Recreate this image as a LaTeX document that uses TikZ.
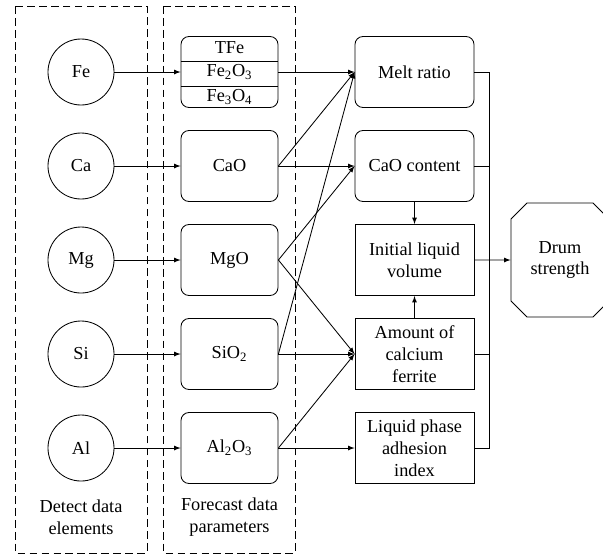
\documentclass[tikz,border=0pt]{standalone}
\usepackage{fontspec}
\setmainfont{Liberation Serif}
\usepackage{tikz}
\usetikzlibrary{positioning,calc,shapes.misc}
\tikzstyle{arrow} = [-latex]
\tikzstyle{elem} = [circle, draw, minimum size=1.65cm, inner sep=0pt]
\tikzstyle{param} = [rectangle, draw, rounded corners=0.2cm, minimum width=2.425cm, minimum height=1.775cm]
\tikzstyle{index} = [rectangle, draw, minimum width=2.975cm, minimum height=1.775cm, align=center, inner sep=1pt]
\tikzstyle{grp} = [dash pattern=on 5.5pt off 3pt]

\begin{document}
\begin{tikzpicture}[node distance=2.35cm, line width=0.6pt, every node/.style={font=\fontsize{13}{15.6}\selectfont}]
		\useasboundingbox (-2.025,1.8) rectangle (13.05,-12.1);

		\node (1fe) [elem] at (0,0) {Fe};
		\node (1ca) [elem, below of=1fe] {Ca};
		\node (1mg) [elem, below of=1ca] {Mg};
		\node (1si) [elem, below of=1mg] {Si};
		\node (1al) [elem, below of=1si] {Al};
		\node (1lab) [below of=1al, yshift=0.625cm, align=center] {Detect data\\elements};

		\node (2fe) [param, right of=1fe, xshift=1.3625cm] {};
		\node (2fe2) at (2fe) {Fe\textsubscript{2}O\textsubscript{3}};
		\node (2tfe) [above of=2fe, node distance=0.6cm] {TFe};
		\node (2fe3) [below of=2fe, node distance=0.62cm] {Fe\textsubscript{3}O\textsubscript{4}};
		\node (2ca) [param, right of=1ca, xshift=1.3625cm] {CaO};
		\node (2mg) [param, right of=1mg, xshift=1.3625cm] {MgO};
		\node (2si) [param, right of=1si, xshift=1.3625cm] {SiO\textsubscript{2}};
		\node (2al) [param, right of=1al, xshift=1.3625cm] {Al\textsubscript{2}O\textsubscript{3}};
		\node (2lab) [right of=1lab, xshift=1.3625cm, align=center] {Forecast data\\parameters};
		\draw ([yshift=0.275cm]2fe.west) -- ([yshift=0.275cm]2fe.east);
		\draw ([yshift=-0.35cm]2fe.west) -- ([yshift=-0.35cm]2fe.east);

		\node (3melt) [index, rounded corners=0.2cm, right of=2fe, xshift=2.275cm] {Melt ratio};
		\node (3cao) [index, rounded corners=0.2cm, right of=2ca, xshift=2.275cm] {CaO content};
		\node (3liq) [index, right of=2mg, xshift=2.275cm] {Initial liquid\\volume};
		\node (3ferr) [index, right of=2si, xshift=2.275cm] {Amount of\\calcium\\ferrite};
		\node (3adh) [index, right of=2al, xshift=2.275cm] {Liquid phase\\adhesion\\index};
		\node (4drum) [draw, chamfered rectangle, chamfered rectangle xsep=0.2cm, chamfered rectangle ysep=0.2cm,
			minimum width=2.45cm, minimum height=2.85cm, align=center, right of=3liq, xshift=1.2875cm] {Drum\\strength};

		\draw [grp] ($(1fe)+(-1.65,1.65)$) rectangle ($(1fe)+(1.65,-12.025)$);
		\draw [grp] ($(1fe)+(2.05,1.65)$) rectangle ($(1fe)+(5.35,-12.025)$);

		\draw [arrow] (1fe) -- (2fe);
		\draw [arrow] (1ca) -- (2ca);
		\draw [arrow] (1mg) -- (2mg);
		\draw [arrow] (1si) -- (2si);
		\draw [arrow] (1al) -- (2al);

		\draw [arrow] (2fe) -- (3melt);
		\draw [arrow] (2ca.east) -- (3melt.west);
		\draw [arrow] (2ca) -- (3cao);
		\draw [arrow] (2mg.east) -- (3cao.west);
		\draw [arrow] (2mg.east) -- (3ferr.west);
		\draw [arrow] (2si.east) -- (3melt.west);
		\draw [arrow] (2si) -- (3ferr);
		\draw [arrow] (2al.east) -- (3ferr.west);
		\draw [arrow] (2al) -- (3adh);

		\draw [arrow] (3cao) -- (3liq);
		\draw [arrow] (3ferr) -- (3liq);

		\coordinate (bus) at ($(3melt.east)+(0.375,0)$);
		\draw (3melt.east) -- (bus) |- (3adh.east);
		\draw (3cao.east) -- (3cao.east -| bus);
		\draw (3ferr.east) -- (3ferr.east -| bus);
		\draw [arrow] (3liq) -- (4drum);
	\end{tikzpicture}
\end{document}
